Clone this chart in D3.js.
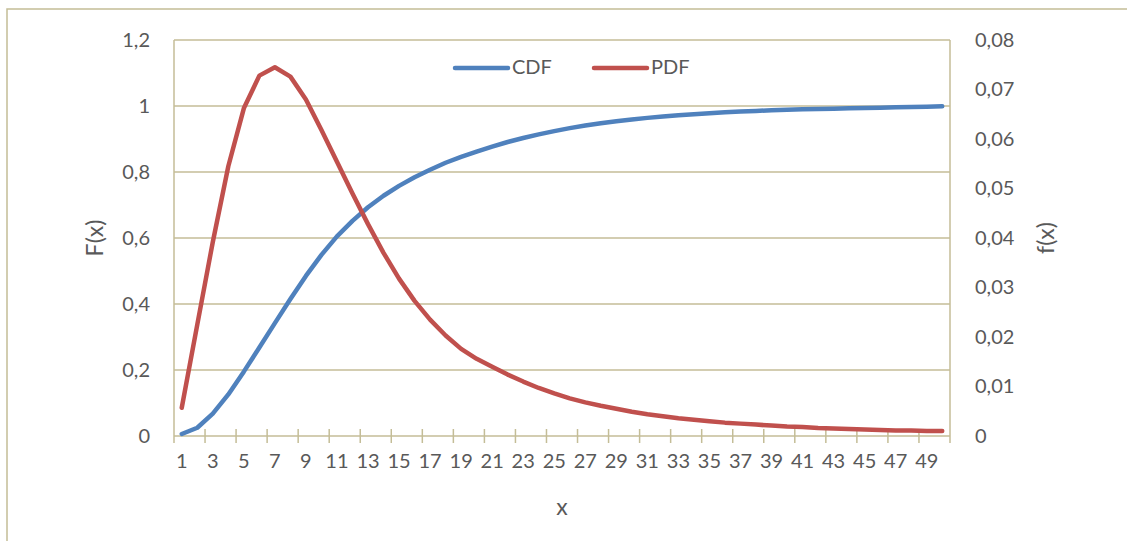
<!DOCTYPE html>
<html>
<head>
<meta charset="utf-8">
<script src="https://cdn.jsdelivr.net/npm/d3@7"></script>
<style>
  html, body { margin: 0; padding: 0; background: #ffffff; }
  svg { display: block; }
  text { font-family: Lato, "Open Sans", sans-serif; fill: #595959; }
</style>
</head>
<body>
<svg id="chart" width="1127" height="541"></svg>
<script>
// Distribution evaluated at x = 1..50
const categories = d3.range(1, 51);
const cdfValues = [
  0.006, 0.025, 0.068, 0.126, 0.195, 0.268, 0.342, 0.415, 0.485, 0.549,
  0.605, 0.652, 0.693, 0.728, 0.758, 0.784, 0.807, 0.828, 0.846, 0.862,
  0.877, 0.891, 0.903, 0.914, 0.924, 0.933, 0.941, 0.948, 0.954, 0.959,
  0.964, 0.968, 0.972, 0.975, 0.978, 0.981, 0.983, 0.985, 0.987, 0.989,
  0.990, 0.991, 0.992, 0.993, 0.994, 0.995, 0.996, 0.997, 0.998, 0.999
];
const pdfValues = [
  0.0057, 0.0225, 0.0392, 0.0545, 0.0662, 0.0728, 0.0745, 0.0726, 0.0680, 0.0618,
  0.0554, 0.0490, 0.0428, 0.0370, 0.0318, 0.0273, 0.0235, 0.0203, 0.0176, 0.0156,
  0.0140, 0.0124, 0.0110, 0.0097, 0.0086, 0.0076, 0.0068, 0.0061, 0.0055, 0.0049,
  0.0044, 0.0040, 0.0036, 0.0033, 0.0030, 0.0027, 0.0025, 0.0023, 0.0021, 0.0019,
  0.0018, 0.0016, 0.0015, 0.0014, 0.0013, 0.0012, 0.0011, 0.0011, 0.0010, 0.0010
];
const leftTicks = [0, 0.2, 0.4, 0.6, 0.8, 1, 1.2];
const rightTicks = [0, 0.01, 0.02, 0.03, 0.04, 0.05, 0.06, 0.07, 0.08];
const xLabelCats = categories.filter(c => c % 2 === 1);

const frameColor = "#c4bd97";
const blue = "#4f81bd";
const red = "#c0504d";
const fontSize = 20;
const titleSize = 23;

const svg = d3.select("#chart");
const plot = { left: 174, right: 950, top: 40, bottom: 436 };

const x = d3.scaleBand().domain(categories).range([plot.left, plot.right]).padding(0);
const yL = d3.scaleLinear().domain([0, 1.2]).range([plot.bottom, plot.top]);
const yR = d3.scaleLinear().domain([0, 0.08]).range([plot.bottom, plot.top]);
const comma = v => String(+v.toFixed(2)).replace(".", ",");

// outer chart frame
svg.append("rect")
  .attr("x", 7).attr("y", 9).attr("width", 1300).attr("height", 700)
  .attr("fill", "none").attr("stroke", frameColor).attr("stroke-width", 1.5);

// horizontal gridlines
svg.append("g").selectAll("line").data(leftTicks.filter(t => t > 0)).join("line")
  .attr("x1", plot.left).attr("x2", plot.right)
  .attr("y1", d => yL(d)).attr("y2", d => yL(d))
  .attr("stroke", frameColor).attr("stroke-width", 1.5);

// plot border (left and right sides)
svg.append("line").attr("x1", plot.left).attr("x2", plot.left)
  .attr("y1", plot.top).attr("y2", plot.bottom + 7)
  .attr("stroke", frameColor).attr("stroke-width", 1.5);
svg.append("line").attr("x1", plot.right).attr("x2", plot.right)
  .attr("y1", plot.top).attr("y2", plot.bottom + 7)
  .attr("stroke", frameColor).attr("stroke-width", 1.5);

// category axis line and cross tick marks every two categories
svg.append("line").attr("x1", plot.left).attr("x2", plot.right)
  .attr("y1", plot.bottom).attr("y2", plot.bottom)
  .attr("stroke", frameColor).attr("stroke-width", 1.5);
svg.append("g").selectAll("line").data(xLabelCats.slice(1)).join("line")
  .attr("x1", d => x(d)).attr("x2", d => x(d))
  .attr("y1", plot.bottom - 7).attr("y2", plot.bottom + 7)
  .attr("stroke", frameColor).attr("stroke-width", 1.5);

// x tick labels
const xAxis = d3.axisBottom(x).tickValues(xLabelCats).tickSize(0).tickPadding(0);
const gx = svg.append("g").attr("transform", `translate(0,${plot.bottom})`).call(xAxis);
gx.select(".domain").remove();
gx.selectAll("text")
  .attr("y", 32).attr("dy", "0")
  .style("font-size", fontSize + "px").style("font-family", "Lato, sans-serif")
  .attr("fill", "#595959");

// left axis labels
const gl = svg.append("g").attr("transform", `translate(${plot.left},0)`)
  .call(d3.axisLeft(yL).tickValues(leftTicks).tickFormat(comma).tickSize(0).tickPadding(24));
gl.select(".domain").remove();
gl.selectAll("text").style("font-size", fontSize + "px").style("font-family", "Lato, sans-serif")
  .attr("fill", "#595959");

// right axis labels
const gr = svg.append("g").attr("transform", `translate(${plot.right},0)`)
  .call(d3.axisRight(yR).tickValues(rightTicks).tickFormat(comma).tickSize(0).tickPadding(25));
gr.select(".domain").remove();
gr.selectAll("text").style("font-size", fontSize + "px").style("font-family", "Lato, sans-serif")
  .attr("fill", "#595959");

// axis titles
svg.append("text").attr("transform", "translate(97,238) rotate(-90)")
  .attr("text-anchor", "middle").attr("dominant-baseline", "middle")
  .style("font-size", titleSize + "px").text("F(x)");
svg.append("text").attr("transform", "translate(1048,238) rotate(-90)")
  .attr("text-anchor", "middle").attr("dominant-baseline", "middle")
  .style("font-size", titleSize + "px").text("f(x)");
svg.append("text").attr("x", 562).attr("y", 509)
  .attr("text-anchor", "middle").attr("dominant-baseline", "middle")
  .style("font-size", titleSize + "px").text("x");

// series lines
const cx = c => x(c) + x.bandwidth() / 2;
const cdfLine = d3.line().x((d, i) => cx(categories[i])).y(d => yL(d));
const pdfLine = d3.line().x((d, i) => cx(categories[i])).y(d => yR(d));

svg.append("path").datum(cdfValues).attr("d", cdfLine)
  .attr("fill", "none").attr("stroke", blue).attr("stroke-width", 4.5)
  .attr("stroke-linecap", "round").attr("stroke-linejoin", "round");
svg.append("path").datum(pdfValues).attr("d", pdfLine)
  .attr("fill", "none").attr("stroke", red).attr("stroke-width", 4.5)
  .attr("stroke-linecap", "round").attr("stroke-linejoin", "round");

// legend
const legend = [
  { name: "CDF", color: blue, x0: 455 },
  { name: "PDF", color: red, x0: 594 }
];
const lg = svg.append("g").selectAll("g").data(legend).join("g");
lg.append("line")
  .attr("x1", d => d.x0).attr("x2", d => d.x0 + 53)
  .attr("y1", 68).attr("y2", 68)
  .attr("stroke", d => d.color).attr("stroke-width", 4.5).attr("stroke-linecap", "round");
lg.append("text")
  .attr("x", d => d.x0 + 57).attr("y", 69)
  .attr("dominant-baseline", "middle")
  .style("font-size", fontSize + "px").text(d => d.name);
</script>
</body>
</html>
